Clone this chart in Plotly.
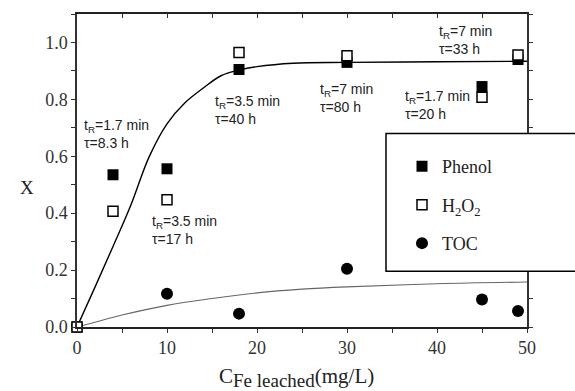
import plotly.graph_objects as go

# data
c_fe = [0, 4, 10, 18, 30, 45, 49]
phenol = [0.0, 0.535, 0.556, 0.905, 0.93, 0.845, 0.94]
h2o2 = [0.0, 0.407, 0.447, 0.965, 0.953, 0.807, 0.956]
toc_x = [0, 10, 18, 30, 45, 49]
toc = [0.0, 0.117, 0.047, 0.205, 0.097, 0.056]

fit1_x = [0, 2, 4, 6, 8, 10, 12, 14, 16, 18, 20, 24, 30, 40, 50]
fit1_y = [0.0, 0.14, 0.283, 0.43, 0.597, 0.714, 0.788, 0.839, 0.883, 0.903, 0.915, 0.927, 0.93, 0.932, 0.934]
fit2_x = [0, 2, 5, 10, 15, 20, 25, 30, 40, 50]
fit2_y = [0.0, 0.017, 0.042, 0.076, 0.1, 0.12, 0.133, 0.141, 0.152, 0.158]

labels = [
    (0.5, 0.745, "t<sub>R</sub>=1.7 min<br>τ=8.3 h"),
    (15.1, 0.828, "t<sub>R</sub>=3.5 min<br>τ=40 h"),
    (8.1, 0.408, "t<sub>R</sub>=3.5 min<br>τ=17 h"),
    (26.8, 0.871, "t<sub>R</sub>=7 min<br>τ=80 h"),
    (36.2, 0.846, "t<sub>R</sub>=1.7 min<br>τ=20 h"),
    (40.0, 1.075, "t<sub>R</sub>=7 min<br>τ=33 h"),
]

SERIF = "Liberation Serif"
SANS = "Liberation Sans"

fig = go.Figure()
fig.add_trace(go.Scatter(x=fit1_x, y=fit1_y, mode="lines", line=dict(color="black", width=1.4, shape="spline"),
                         showlegend=False, hoverinfo="skip"))
fig.add_trace(go.Scatter(x=fit2_x, y=fit2_y, mode="lines", line=dict(color="#666", width=1.1, shape="spline"),
                         showlegend=False, hoverinfo="skip"))
fig.add_trace(go.Scatter(x=toc_x, y=toc, mode="markers", name="TOC", legendrank=3, legendgroup="c",
                         marker=dict(symbol="circle", size=12, color="black"), cliponaxis=False))
fig.add_trace(go.Scatter(x=c_fe, y=phenol, mode="markers", name="Phenol", legendrank=1, legendgroup="a",
                         marker=dict(symbol="square", size=11, color="black"), cliponaxis=False))
fig.add_trace(go.Scatter(x=c_fe, y=h2o2, mode="markers", name="H<sub>2</sub>O<sub>2</sub>", legendrank=2,
                         legendgroup="b",
                         marker=dict(symbol="square", size=10, color="white", line=dict(color="black", width=1.5)),
                         cliponaxis=False))
# dummy for top axis
fig.add_trace(go.Scatter(x=[None], y=[None], xaxis="x2", showlegend=False, hoverinfo="skip"))

for x, y, t in labels:
    fig.add_annotation(x=x, y=y, xref="x", yref="y", text=t, showarrow=False, xanchor="left", yanchor="top",
                       align="left", font=dict(family=SANS, size=14, color="#222"))

fig.add_annotation(x=(18 - 77) / 450, y=(326.7 - 187) / 312.7, xref="paper", yref="paper", text="X",
                   showarrow=False, font=dict(family=SERIF, size=19, color="#222"))
fig.add_annotation(x=(296 - 77) / 450, y=(326.7 - 377) / 312.7, xref="paper", yref="paper",
                   xanchor="center", yanchor="middle",
                   text="C<sub><span style='font-size:19px'>Fe leached</span></sub>(mg/L)", showarrow=False,
                   font=dict(family=SERIF, size=21, color="#222"))

fig.add_shape(type="rect", xref="paper", yref="paper", x0=(386 - 77) / 450, x1=(600 - 77) / 450,
              y0=(326.7 - 271) / 312.7, y1=(326.7 - 133.3) / 312.7, layer="above",
              line=dict(color="black", width=1.5), fillcolor="white")

fig.update_layout(
    width=575, height=391, margin=dict(l=77, r=48, t=14, b=64),
    plot_bgcolor="white", paper_bgcolor="white",
    font=dict(family=SERIF, size=18, color="#222"),
    legend=dict(x=(402 - 77) / 450, y=(326.7 - 148) / 312.7, xanchor="left", yanchor="top",
                bgcolor="rgba(0,0,0,0)", borderwidth=0, tracegroupgap=12, traceorder="grouped",
                font=dict(family=SERIF, size=18, color="#222")),
    xaxis=dict(range=[0, 50], dtick=10, ticks="outside", ticklen=4, tickwidth=1.2, tickcolor="#333",
               showline=True, linecolor="#222", linewidth=1.5, mirror=True, showgrid=False, zeroline=False,
               tickfont=dict(family=SERIF, size=18, color="#333"),
               minor=dict(dtick=5, ticks="outside", ticklen=4, tickcolor="#333", tickwidth=1.2)),
    xaxis2=dict(range=[0, 50], overlaying="x", side="top", dtick=5, ticks="inside", ticklen=4, tickwidth=1.2,
                tickcolor="#333", showticklabels=False, showgrid=False, zeroline=False, showline=False),
    yaxis=dict(range=[0, 1.1], dtick=0.2, tickformat=".1f", ticks="outside", ticklen=4, tickwidth=1.2,
               tickcolor="#333", showline=True, linecolor="#333", linewidth=1.5, mirror="ticks",
               showgrid=False, zeroline=False, tickfont=dict(family=SERIF, size=18, color="#333"),
               minor=dict(dtick=0.1, ticks="outside", ticklen=4, tickcolor="#333", tickwidth=1.2)),
)

fig.write_html("out.html")
